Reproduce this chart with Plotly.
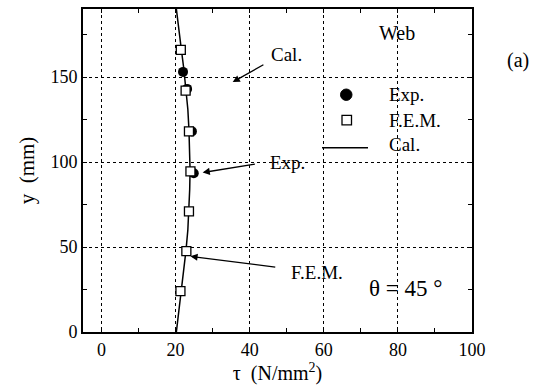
import plotly.graph_objects as go

# FEM results (squares)
fem_tau = [21.4, 22.7, 23.6, 24.0, 23.6, 22.9, 21.3]
fem_y = [166, 142, 118, 94.5, 71, 47.6, 24]
# Experimental (filled circles)
exp_tau = [22.0, 23.1, 24.4, 24.9]
exp_y = [153, 143, 118, 93.4]
# Calculated curve
cal_tau = [20.2, 20.9, 21.5, 22.2, 22.8, 23.3, 23.6, 23.8, 23.9, 23.8, 23.6, 23.3, 22.8, 22.2, 21.5, 20.9, 20.2]
cal_y = [0, 12, 24, 36, 48, 60, 72, 84, 95, 107, 119, 131, 143, 155, 167, 178, 190]

x_ticks = [0, 20, 40, 60, 80, 100]
y_ticks = [0, 50, 100, 150]

FONT = "Liberation Serif"

fig = go.Figure()
fig.add_trace(go.Scatter(x=cal_tau, y=cal_y, mode="lines",
                         line=dict(color="black", width=1.5), showlegend=False))
fig.add_trace(go.Scatter(x=exp_tau, y=exp_y, mode="markers",
                         marker=dict(symbol="circle", size=10, color="black"), showlegend=False))
fig.add_trace(go.Scatter(x=fem_tau, y=fem_y, mode="markers",
                         marker=dict(symbol="square", size=9, color="white",
                                     line=dict(color="black", width=1.3)), showlegend=False))

# Pointer annotations
arrows = [
    ("Cal.", 35.4, 147, 44.1, 157.7, 49.8, 163.5),
    ("Exp.", 27.3, 93.8, 41.8, 98.9, 50.3, 99.8),
    ("F.E.M.", 24.0, 44.5, 47.3, 38.1, 58.1, 34.8),
]
for txt, hx, hy, tx, ty, lx, ly in arrows:
    fig.add_annotation(x=hx, y=hy, ax=tx, ay=ty, xref="x", yref="y", axref="x", ayref="y",
                       text="", showarrow=True, arrowhead=2, arrowsize=1.1, arrowwidth=1.3,
                       arrowcolor="black")
    fig.add_annotation(x=lx, y=ly, xref="x", yref="y", text=txt, showarrow=False,
                       xanchor="center", yanchor="middle",
                       font=dict(family=FONT, size=19, color="black"))

# Manual legend (paper pixel positions)
W, H = 539, 390
L, R, T, B = 83, 67, 7, 58
pw, ph = W - L - R, H - T - B


def px(xp):
    return (xp - L) / pw


def py(yp):
    return 1 - (yp - T) / ph


fig.add_shape(type="circle", xref="paper", yref="paper",
              x0=px(340.5), x1=px(352), y0=py(99), y1=py(87.5),
              fillcolor="black", line=dict(color="black", width=1))
fig.add_shape(type="rect", xref="paper", yref="paper",
              x0=px(342), x1=px(351.5), y0=py(123.5), y1=py(114),
              fillcolor="white", line=dict(color="black", width=1.3))
fig.add_shape(type="line", xref="paper", yref="paper",
              x0=px(322), x1=px(368), y0=py(146.5), y1=py(146.5),
              line=dict(color="black", width=1.5))
for txt, yy in [("Exp.", 93), ("F.E.M.", 119.5), ("Cal.", 143.5)]:
    fig.add_annotation(x=px(387), y=py(yy), xref="paper", yref="paper", text=txt,
                       showarrow=False, xanchor="left", yanchor="middle",
                       font=dict(family=FONT, size=19, color="black"))

for txt, xx, yy, sz in [("Web", 397, 31, 20), ("(a)", 518, 59, 20), ("θ = 45 °", 405, 288, 23)]:
    fig.add_annotation(x=px(xx), y=py(yy), xref="paper", yref="paper", text=txt,
                       showarrow=False, xanchor="center", yanchor="middle",
                       font=dict(family=FONT, size=sz, color="black"))

axis_common = dict(
    showline=True, linecolor="black", linewidth=2, mirror="ticks",
    showgrid=True, gridcolor="black", griddash="dot", gridwidth=1,
    zeroline=False, ticks="inside", ticklen=4, tickcolor="black",
    tickfont=dict(family=FONT, size=18, color="black"),
)

fig.update_xaxes(range=[-5, 100], tickvals=x_ticks,
                 minor=dict(ticks="inside", ticklen=4, dtick=10, tick0=0, showgrid=False,
                            tickcolor="black"),
                 title=dict(text="τ  (N/mm<sup>2</sup>)", standoff=4,
                            font=dict(family=FONT, size=20, color="black")),
                 **axis_common)
fig.update_yaxes(range=[0, 190], tickvals=y_ticks,
                 minor=dict(ticks="inside", ticklen=4, dtick=25, tick0=0, showgrid=False,
                            tickcolor="black"),
                 title=dict(text="y  (mm)", standoff=10,
                            font=dict(family=FONT, size=21, color="black")),
                 **axis_common)

fig.update_layout(width=W, height=H, margin=dict(l=L, r=R, t=T, b=B),
                  font=dict(family=FONT, color="black"),
                  plot_bgcolor="white", paper_bgcolor="white", showlegend=False)

fig.write_html("out.html")
